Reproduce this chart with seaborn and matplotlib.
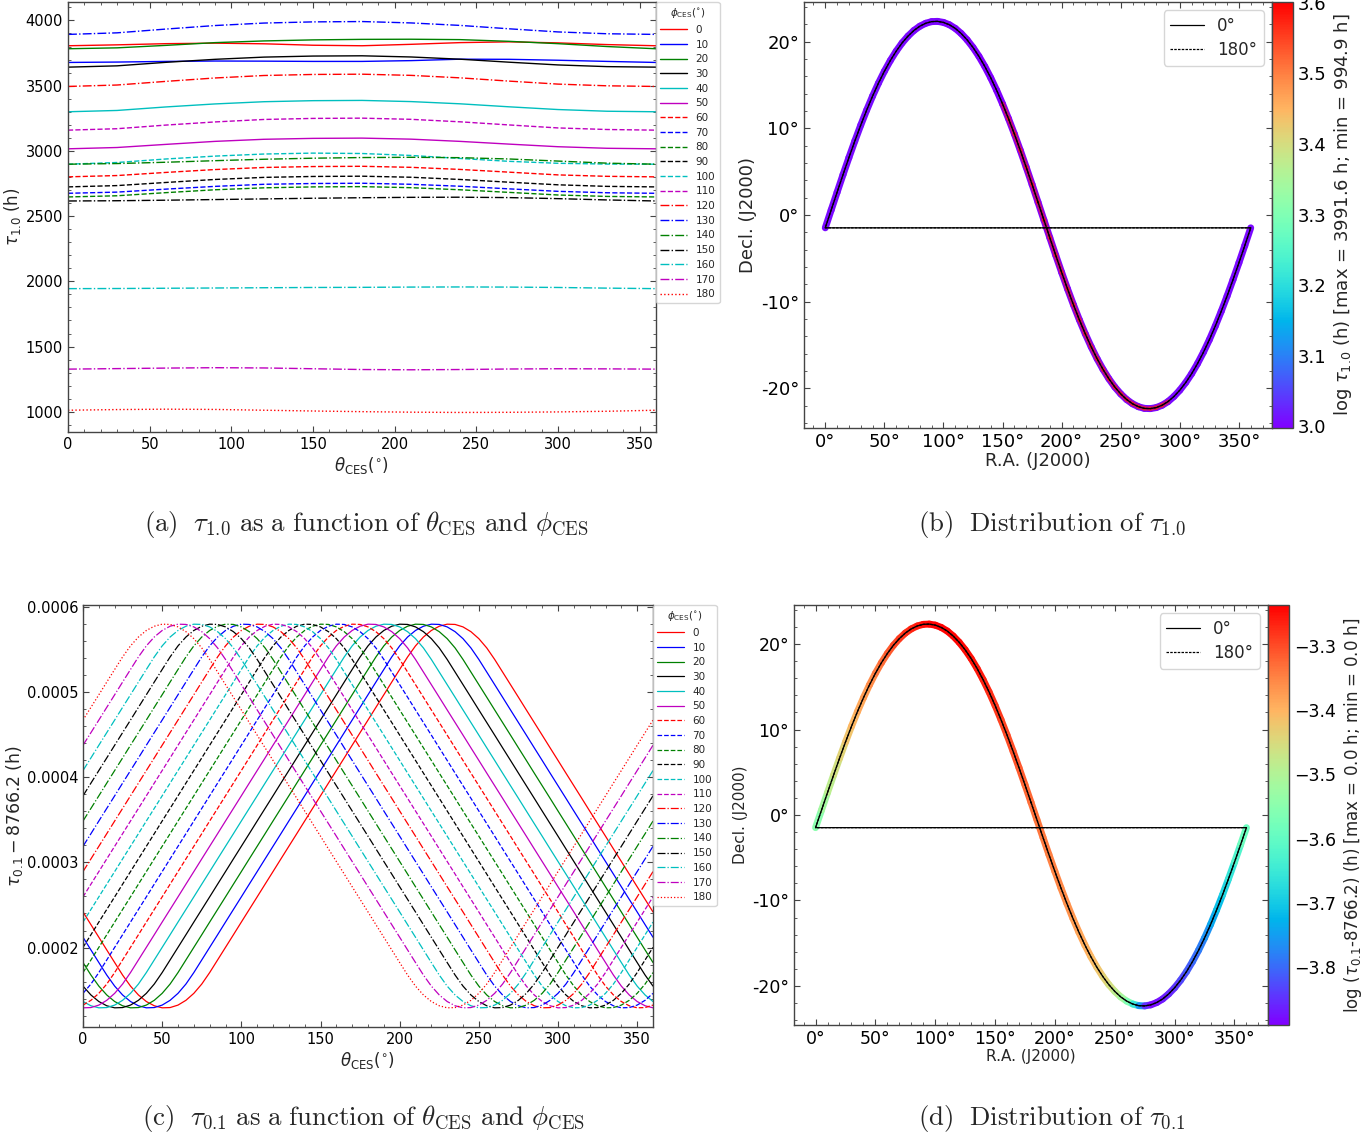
import numpy as np
import pandas as pd
import matplotlib
matplotlib.use("Agg")
import matplotlib.pyplot as plt
import seaborn as sns
from matplotlib.collections import LineCollection
from matplotlib.colors import Normalize
from matplotlib.cm import ScalarMappable
from matplotlib.ticker import FuncFormatter, MultipleLocator

# ---------------- data ----------------
phi_ces = [0, 10, 20, 30, 40, 50, 60, 70, 80, 90, 100, 110, 120, 130, 140, 150, 160, 170, 180]

# panel (a): tau_1.0 (h) vs theta_CES, sampled every 30 deg
theta_a = [0, 30, 60, 90, 120, 150, 180, 210, 240, 270, 300, 330, 360]
tau10 = {
    0:   [3806, 3813, 3822, 3826, 3821, 3810, 3806, 3817, 3830, 3836, 3828, 3815, 3806],
    10:  [3678, 3681, 3686, 3689, 3688, 3686, 3686, 3692, 3703, 3702, 3695, 3686, 3678],
    20:  [3783, 3790, 3809, 3830, 3843, 3851, 3855, 3856, 3853, 3840, 3822, 3800, 3783],
    30:  [3642, 3652, 3679, 3702, 3719, 3727, 3729, 3720, 3703, 3680, 3659, 3646, 3642],
    40:  [3300, 3310, 3337, 3360, 3377, 3385, 3387, 3378, 3361, 3338, 3317, 3304, 3300],
    50:  [3016, 3026, 3050, 3073, 3089, 3096, 3098, 3090, 3073, 3052, 3032, 3020, 3016],
    60:  [2801, 2811, 2835, 2857, 2873, 2880, 2882, 2874, 2858, 2837, 2816, 2805, 2801],
    70:  [2675, 2684, 2707, 2728, 2744, 2750, 2752, 2744, 2729, 2709, 2690, 2679, 2675],
    80:  [2647, 2656, 2680, 2702, 2717, 2724, 2726, 2718, 2702, 2682, 2662, 2651, 2647],
    90:  [2724, 2734, 2758, 2781, 2797, 2804, 2806, 2798, 2781, 2760, 2740, 2728, 2724],
    100: [2898, 2911, 2938, 2960, 2976, 2983, 2980, 2965, 2942, 2920, 2905, 2899, 2898],
    110: [3159, 3170, 3198, 3222, 3241, 3249, 3251, 3242, 3223, 3199, 3176, 3164, 3159],
    120: [3494, 3505, 3533, 3559, 3578, 3586, 3588, 3579, 3560, 3535, 3512, 3499, 3494],
    130: [3893, 3905, 3934, 3961, 3980, 3989, 3991.6, 3981, 3962, 3936, 3912, 3898, 3893],
    140: [2898, 2903, 2913, 2925, 2936, 2944, 2949, 2951, 2948, 2938, 2922, 2906, 2898],
    150: [2616, 2618, 2622, 2627, 2632, 2637, 2641, 2644, 2645, 2642, 2634, 2624, 2616],
    160: [1944, 1945, 1947, 1949, 1951, 1953, 1954, 1956, 1957, 1956, 1953, 1948, 1944],
    170: [1327, 1331, 1335, 1338, 1336, 1330, 1324, 1322, 1324, 1328, 1330, 1329, 1327],
    180: [1012, 1017, 1020, 1018, 1012, 1006, 1001, 997, 994.9, 996, 999, 1004, 1012],
}

# panel (c): tau_0.1 - 8766.2 (units of 1e-4 h) for phi=0, every 5 deg (0..355);
# each other phi curve in the picture is this curve shifted left by phi degrees
theta_c = list(range(0, 361, 5))
tau01_phi0 = [2.418, 2.269, 2.121, 1.972, 1.824, 1.677, 1.547, 1.443, 1.366, 1.316, 1.292, 1.295,
              1.324, 1.380, 1.462, 1.571, 1.706, 1.854, 2.002, 2.150, 2.299, 2.447, 2.595, 2.744,
              2.892, 3.041, 3.189, 3.337, 3.486, 3.634, 3.782, 3.931, 4.079, 4.227, 4.376, 4.524,
              4.672, 4.821, 4.969, 5.118, 5.266, 5.413, 5.543, 5.647, 5.724, 5.774, 5.798, 5.795,
              5.766, 5.710, 5.628, 5.519, 5.384, 5.236, 5.088, 4.940, 4.791, 4.643, 4.495, 4.346,
              4.198, 4.049, 3.901, 3.753, 3.604, 3.456, 3.308, 3.159, 3.011, 2.863, 2.714, 2.566]
tau01_scale = 1e-4

# panels (b), (d): scan track on the sky, every 5 deg of R.A.
ra_deg = list(range(0, 361, 5))
dec_deg = [-1.48, 0.575, 2.62, 4.645, 6.62, 8.53, 10.36, 12.09, 13.71, 15.21, 16.58, 17.81,
           18.90, 19.85, 20.64, 21.29, 21.78, 22.12, 22.31, 22.34, 22.22, 21.95, 21.53, 20.94,
           20.21, 19.33, 18.31, 17.14, 15.83, 14.39, 12.82, 11.13, 9.35, 7.47, 5.52, 3.52,
           1.48, -0.575, -2.62, -4.645, -6.62, -8.53, -10.36, -12.09, -13.71, -15.21, -16.58,
           -17.81, -18.90, -19.85, -20.64, -21.29, -21.78, -22.12, -22.31, -22.34, -22.22,
           -21.95, -21.53, -20.94, -20.21, -19.33, -18.31, -17.14, -15.83, -14.39, -12.82,
           -11.13, -9.35, -7.47, -5.52, -3.52, -1.48]
# log tau_1.0 along the track (purple, ~1000 h)
logtau10_track = [3.005, 3.005, 3.006, 3.006, 3.007, 3.007, 3.008, 3.008, 3.008, 3.008, 3.007,
                  3.007, 3.006, 3.006, 3.005, 3.005, 3.004, 3.004, 3.003, 3.003, 3.002, 3.002,
                  3.001, 3.001, 3.000, 3.000, 2.999, 2.999, 2.999, 2.999, 2.998, 2.998, 2.998,
                  2.998, 2.998, 2.998, 2.999, 2.999, 3.000, 3.000, 3.001, 3.001, 3.002, 3.002,
                  3.003, 3.003, 3.004, 3.004, 3.004, 3.004, 3.004, 3.004, 3.004, 3.004, 3.004,
                  3.004, 3.005, 3.005, 3.005, 3.005, 3.005, 3.005, 3.005, 3.005, 3.005, 3.005,
                  3.005, 3.005, 3.005, 3.005, 3.005, 3.005, 3.005]
# reddish part visible under the line (phi = 0 values), R.A. 150..290
ra_red = list(range(150, 291, 5))
logtau10_red = [3.58] * 0 + [3.58, 3.58, 3.58, 3.58, 3.58, 3.58, 3.58, 3.58, 3.58, 3.58,
                             3.58, 3.58, 3.58, 3.58, 3.58, 3.58, 3.58, 3.58, 3.58, 3.58,
                             3.58, 3.58, 3.58, 3.58, 3.58, 3.58, 3.58, 3.58, 3.58]
# log(tau_0.1 - 8766.2) along the track
logtau01_track = [-3.57, -3.53, -3.50, -3.47, -3.45, -3.43, -3.41, -3.395, -3.38, -3.365, -3.35,
                  -3.335, -3.32, -3.305, -3.29, -3.28, -3.27, -3.26, -3.25, -3.245, -3.24, -3.24,
                  -3.24, -3.24, -3.24, -3.245, -3.25, -3.255, -3.26, -3.27, -3.28, -3.29, -3.30,
                  -3.305, -3.31, -3.32, -3.33, -3.335, -3.34, -3.345, -3.35, -3.355, -3.36, -3.37,
                  -3.38, -3.39, -3.40, -3.415, -3.43, -3.45, -3.47, -3.50, -3.53, -3.60, -3.70,
                  -3.82, -3.88, -3.88, -3.87, -3.86, -3.85, -3.835, -3.82, -3.805, -3.79, -3.77,
                  -3.75, -3.725, -3.70, -3.67, -3.64, -3.605, -3.57]
tau10_max, tau10_min = 3991.6, 994.9
tau01_max, tau01_min = 5.80e-4, 1.29e-4

# ---------------- style ----------------
sns.set_style("ticks")
plt.rcParams['font.family'] = ['DejaVu Sans']
plt.rcParams.update({
    'xtick.direction': 'in', 'ytick.direction': 'in',
    'xtick.top': True, 'ytick.right': True,
    'xtick.minor.visible': True, 'ytick.minor.visible': True,
    'xtick.major.size': 4, 'ytick.major.size': 4,
    'xtick.minor.size': 2, 'ytick.minor.size': 2,
    'axes.edgecolor': '#444444', 'axes.linewidth': 1.0,
    'xtick.color': '#444444', 'ytick.color': '#444444',
    'xtick.labelcolor': 'black', 'ytick.labelcolor': 'black',
})

W, H = 1370, 1139
def box(x0, y0, x1, y1):
    return [x0 / W, 1 - y1 / H, (x1 - x0) / W, (y1 - y0) / H]

fig = plt.figure(figsize=(W / 100, H / 100), dpi=100)
ax_a = fig.add_axes(box(68, 2, 656, 432))
ax_b = fig.add_axes(box(804, 2, 1272, 428))
cax_b = fig.add_axes(box(1272, 2, 1293, 428))
ax_c = fig.add_axes(box(83, 605, 653, 1027))
ax_d = fig.add_axes(box(794, 605, 1268, 1025))
cax_d = fig.add_axes(box(1268, 605, 1289, 1025))

line_colors = ['r', 'b', 'g', 'k', 'c', 'm']
def dash_for(i):
    if i < 6:
        return ''
    if i < 12:
        return (3.7, 1.6)
    if i < 18:
        return (6.4, 1.6, 1.0, 1.6)
    return (1.0, 1.65)

labels = [str(p) for p in phi_ces]
palette = {lab: line_colors[i % 6] for i, lab in enumerate(labels)}
dashes = {lab: dash_for(i) for i, lab in enumerate(labels)}
legend_title = r'$\phi_{\rm CES}(^{\circ})$'

# ---------------- panel (a) ----------------
rows = []
for p in phi_ces:
    for t, v in zip(theta_a, tau10[p]):
        rows.append((t, v, str(p)))
df_a = pd.DataFrame(rows, columns=['theta', 'tau', 'phi'])
sns.lineplot(data=df_a, x='theta', y='tau', hue='phi', style='phi', hue_order=labels,
             style_order=labels, palette=palette, dashes=dashes, linewidth=1.0,
             estimator=None, ax=ax_a, legend='full')
ax_a.set_xlim(0, 360)
ax_a.xaxis.set_major_locator(MultipleLocator(50))
ax_a.yaxis.set_major_locator(MultipleLocator(500))
ax_a.tick_params(labelsize=10.5)
ax_a.set_xlabel(r'$\theta_{\rm CES}(^{\circ})$', fontsize=12, labelpad=2)
ax_a.set_ylabel(r'$\tau_{1.0}$ (h)', fontsize=12, labelpad=2)
sns.move_legend(ax_a, 'upper left', bbox_to_anchor=(1.0, 1.0), title=legend_title,
                fontsize=7.5, title_fontsize=7.5, frameon=True, borderaxespad=0,
                labelspacing=0.45, handlelength=2.6, borderpad=0.4)

# ---------------- panel (c) ----------------
rows = []
base = np.array(tau01_phi0)
for p in phi_ces:
    shifted = np.roll(base, -(p // 5))
    vals = np.append(shifted, shifted[0]) * tau01_scale
    for t, v in zip(theta_c, vals):
        rows.append((t, v, str(p)))
df_c = pd.DataFrame(rows, columns=['theta', 'tau', 'phi'])
sns.lineplot(data=df_c, x='theta', y='tau', hue='phi', style='phi', hue_order=labels,
             style_order=labels, palette=palette, dashes=dashes, linewidth=0.9,
             estimator=None, ax=ax_c, legend='full')
ax_c.set_xlim(0, 360)
ax_c.xaxis.set_major_locator(MultipleLocator(50))
ax_c.yaxis.set_major_locator(MultipleLocator(1e-4))
ax_c.yaxis.set_major_formatter(FuncFormatter(lambda v, p: f"{v:.4f}"))
ax_c.tick_params(labelsize=10.5)
ax_c.set_xlabel(r'$\theta_{\rm CES}(^{\circ})$', fontsize=12, labelpad=2)
ax_c.set_ylabel(r'$\tau_{0.1} - 8766.2$ (h)', fontsize=12.5, labelpad=1)
sns.move_legend(ax_c, 'upper left', bbox_to_anchor=(1.0, 1.0), title=legend_title,
                fontsize=7.5, title_fontsize=7.5, frameon=True, borderaxespad=0,
                labelspacing=0.45, handlelength=2.6, borderpad=0.4)

# ---------------- sky panels ----------------
deg_fmt = FuncFormatter(lambda v, p: f"{v:.0f}°")
order = list(range(36, 73)) + list(range(0, 37))
ra_path = [ra_deg[i] for i in order]
dec_path = [dec_deg[i] for i in order]

def colored_track(ax, ra, dec, vals, norm, lw, alpha=1.0):
    pts = np.column_stack([ra, dec])
    segs = np.stack([pts[:-1], pts[1:]], axis=1)
    v = np.asarray(vals)
    lc = LineCollection(segs, cmap='rainbow', norm=norm, linewidths=lw,
                        capstyle='round', joinstyle='round', alpha=alpha)
    lc.set_array((v[:-1] + v[1:]) / 2)
    ax.add_collection(lc)

def sky_axes(ax, tick_fs, label_fs):
    sns.lineplot(x=ra_path, y=dec_path, sort=False, estimator=None, color='k',
                 linewidth=0.9, label='0°', ax=ax)
    sns.lineplot(x=ra_path, y=dec_path, sort=False, estimator=None, color='k',
                 linewidth=0.9, linestyle=(0, (2.0, 1.0)), label='180°', ax=ax)
    ax.xaxis.set_major_locator(MultipleLocator(50))
    ax.yaxis.set_major_locator(MultipleLocator(10))
    ax.xaxis.set_major_formatter(deg_fmt)
    ax.yaxis.set_major_formatter(deg_fmt)
    ax.tick_params(labelsize=tick_fs)
    ax.set_xlabel('R.A. (J2000)', fontsize=label_fs, labelpad=1)
    ax.set_ylabel('Decl. (J2000)', fontsize=label_fs, labelpad=3)
    ax.legend(loc='upper right', fontsize=12, handlelength=2.0, borderpad=0.4,
              labelspacing=0.35, frameon=True, borderaxespad=0.5)

# (b)
norm_b = Normalize(vmin=np.log10(tau10_min), vmax=np.log10(tau10_max))
colored_track(ax_b, ra_deg, dec_deg, logtau10_track, norm_b, 5.0)
i0 = ra_deg.index(ra_red[0])
colored_track(ax_b, ra_red, dec_deg[i0:i0 + len(ra_red)], logtau10_red, norm_b, 3.2, alpha=0.55)
sky_axes(ax_b, 13, 13)
cb_b = fig.colorbar(ScalarMappable(norm=norm_b, cmap='rainbow'), cax=cax_b)
cb_b.set_ticks(np.arange(3.0, 3.61, 0.1))
cb_b.ax.yaxis.set_major_formatter(FuncFormatter(lambda v, p: f"{v:.1f}"))
cb_b.ax.minorticks_on()
cb_b.ax.tick_params(labelsize=13, direction='in', which='both')
cb_b.outline.set_edgecolor('#444444')
cb_b.set_label(r'log $\tau_{1.0}$ (h) [max = 3991.6 h; min = 994.9 h]', fontsize=13)

# (d)
norm_d = Normalize(vmin=np.log10(tau01_min), vmax=np.log10(tau01_max))
colored_track(ax_d, ra_deg, dec_deg, logtau01_track, norm_d, 5.0)
sky_axes(ax_d, 12.5, 11)
cb_d = fig.colorbar(ScalarMappable(norm=norm_d, cmap='rainbow'), cax=cax_d)
cb_d.set_ticks([-3.8, -3.7, -3.6, -3.5, -3.4, -3.3])
cb_d.ax.yaxis.set_major_formatter(FuncFormatter(lambda v, p: f"{v:.1f}".replace('-', '\u2212')))
cb_d.ax.minorticks_on()
cb_d.ax.tick_params(labelsize=12.5, direction='in', which='both')
cb_d.outline.set_edgecolor('#444444')
cb_d.set_label(r'log ($\tau_{0.1}$-8766.2) (h) [max = 0.0 h; min = 0.0 h]', fontsize=12)

# ---------------- captions ----------------
cap_kw = dict(ha='center', va='center', fontsize=19.3, math_fontfamily='cm')
fig.text(366 / W, 1 - 524 / H,
         r'$\mathrm{(a)}\ \ \tau_{1.0}\ \mathrm{as\ a\ function\ of}\ \theta_{\mathrm{CES}}\ \mathrm{and}\ \phi_{\mathrm{CES}}$',
         **cap_kw)
fig.text(1052 / W, 1 - 524 / H, r'$\mathrm{(b)}\ \ \mathrm{Distribution\ of}\ \tau_{1.0}$', **cap_kw)
fig.text(364 / W, 1 - 1118 / H,
         r'$\mathrm{(c)}\ \ \tau_{0.1}\ \mathrm{as\ a\ function\ of}\ \theta_{\mathrm{CES}}\ \mathrm{and}\ \phi_{\mathrm{CES}}$',
         **cap_kw)
fig.text(1052 / W, 1 - 1118 / H, r'$\mathrm{(d)}\ \ \mathrm{Distribution\ of}\ \tau_{0.1}$', **cap_kw)

fig.savefig('out.png', dpi=100)
